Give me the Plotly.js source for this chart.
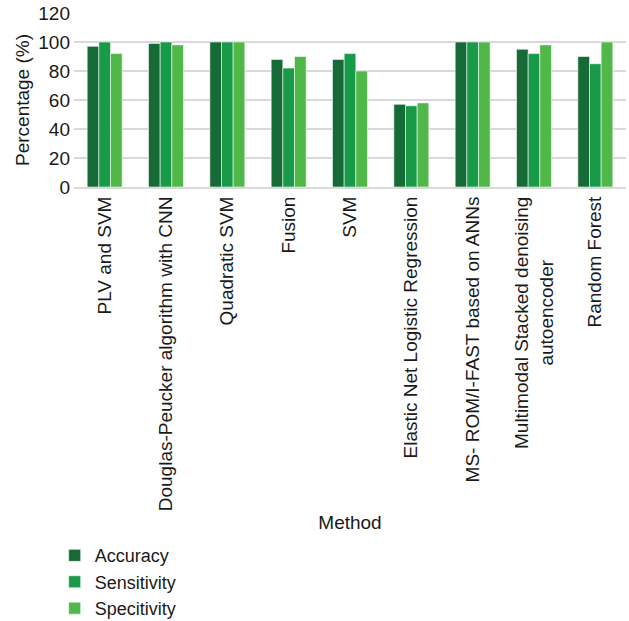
<!DOCTYPE html>
<html>
<head>
<meta charset="utf-8">
<script src="https://cdn.plot.ly/plotly-3.0.1.min.js"></script>
<style>
  html, body { margin: 0; padding: 0; background: #fff; }
  #chart { width: 629px; height: 621px; }
</style>
</head>
<body>
<div id="chart"></div>
<script>
// Methods compared on the x axis
const methods = [
  "PLV and SVM",
  "Douglas-Peucker algorithm with CNN",
  "Quadratic SVM",
  "Fusion",
  "SVM",
  "Elastic Net Logistic Regression",
  "MS- ROM/I-FAST based on ANNs",
  "Multimodal Stacked denoising<br>autoencoder",
  "Random Forest"
];

// Performance metrics (%)
const accuracy    = [97, 99, 100, 88, 88, 57, 100, 95, 90];
const sensitivity = [100, 100, 100, 82, 92, 56, 100, 92, 85];
const specitivity = [92, 98, 100, 90, 80, 58, 100, 98, 100];

const yTicks = [0, 20, 40, 60, 80, 100, 120];

const FONT = "Liberation Sans, Arial, sans-serif";
const FS = 19;
const INK = "#1a1a1a";
const edge = { color: "rgba(255,255,255,0.55)", width: 1 };

// Rotated multi-line labels are end-anchored by Plotly; pad the shorter
// lines with no-break spaces so every line sits centred under the first.
const NBSP = "\u00a0";
function centreLines(label) {
  const lines = label.split("<br>");
  if (lines.length < 2) return label;
  const longest = Math.max(...lines.map(l => l.length));
  return lines.map(l => {
    const pad = Math.round((longest - l.length) * 0.5 * 1.41);
    return l + NBSP.repeat(pad);
  }).join("<br>");
}
const tickLabels = methods.map(centreLines);

const traces = [
  { name: "Accuracy",    y: accuracy,    color: "#166a36" },
  { name: "Sensitivity", y: sensitivity, color: "#189a48" },
  { name: "Specitivity", y: specitivity, color: "#50b848" }
].map(s => ({
  type: "bar",
  name: s.name,
  x: methods,
  y: s.y,
  marker: { color: s.color, line: edge },
  hoverinfo: "x+y+name"
}));

const layout = {
  width: 629,
  height: 621,
  margin: { l: 74, r: 3, t: 13, b: 434 },
  paper_bgcolor: "#ffffff",
  plot_bgcolor: "#ffffff",
  font: { family: FONT, size: FS, color: INK },
  barmode: "group",
  bargap: 0.43,
  bargroupgap: 0,
  showlegend: true,
  legend: {
    x: -0.035, xanchor: "left",
    yref: "container",
    y: 0.135, yanchor: "top",
    orientation: "v",
    font: { family: FONT, size: 18, color: INK },
    tracegroupgap: 0,
    bgcolor: "rgba(0,0,0,0)"
  },
  xaxis: {
    type: "category",
    tickangle: -90,
    tickvals: methods,
    ticktext: tickLabels,
    ticks: "",
    showline: true,
    linecolor: "#d9d9d9",
    linewidth: 2,
    showgrid: false,
    automargin: false,
    tickfont: { family: FONT, size: FS, color: INK },
    title: { text: "Method", font: { family: FONT, size: FS, color: INK }, standoff: 5 }
  },
  yaxis: {
    range: [0, 120],
    tickvals: yTicks,
    ticktext: yTicks.map(String),
    ticks: "",
    ticklabelstandoff: 3,
    showgrid: true,
    gridcolor: "#d9d9d9",
    gridwidth: 2,
    zeroline: false,
    showline: false,
    automargin: false,
    tickfont: { family: FONT, size: FS, color: INK },
    title: { text: "Percentage (%)", font: { family: FONT, size: FS, color: INK }, standoff: 3 }
  }
};

Plotly.newPlot("chart", traces, layout, { displayModeBar: false, staticPlot: true });
</script>
</body>
</html>
